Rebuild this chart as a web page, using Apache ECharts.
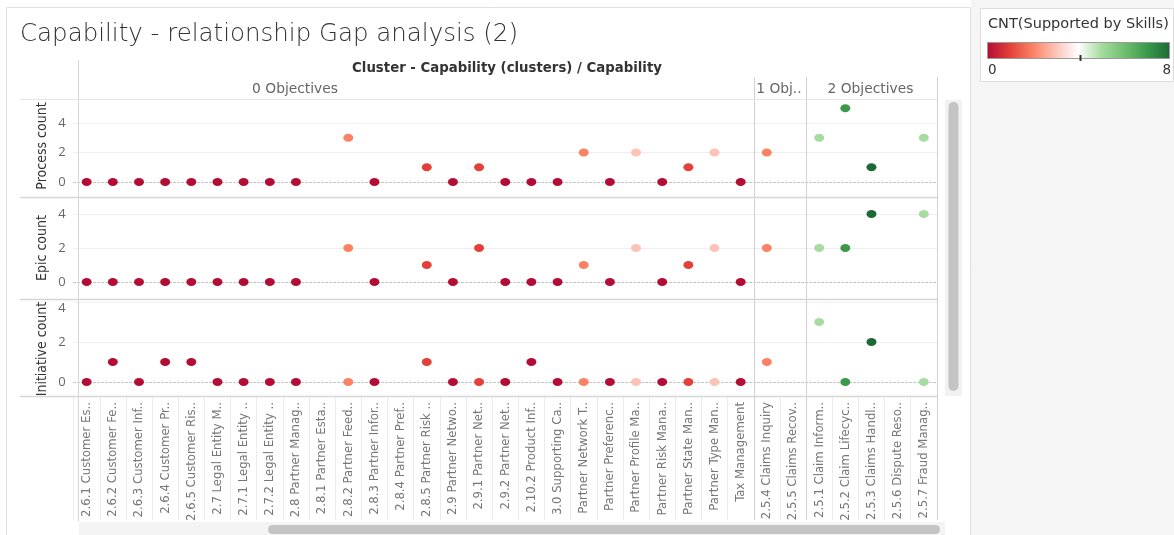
<!DOCTYPE html>
<html>
<head>
<meta charset="utf-8">
<script src="https://cdn.jsdelivr.net/npm/echarts@6/dist/echarts.min.js"></script>
<style>
html,body{margin:0;padding:0;background:#fff;}
#c{width:1174px;height:535px;}
</style>
</head>
<body>
<div id="c"></div>
<script>
// ---------- data ----------
const categories = [
  '2.6.1 Customer Es..','2.6.2 Customer Fe..','2.6.3 Customer Inf..','2.6.4 Customer Pr..','2.6.5 Customer Ris..',
  '2.7 Legal Entity M..','2.7.1 Legal Entity ..','2.7.2 Legal Entity ..','2.8 Partner Manag..','2.8.1 Partner Esta..',
  '2.8.2 Partner Feed..','2.8.3 Partner Infor..','2.8.4 Partner Pref..','2.8.5 Partner Risk ..','2.9 Partner Netwo..',
  '2.9.1 Partner Net..','2.9.2 Partner Net..','2.10.2 Product Inf..','3.0 Supporting Ca..','Partner Network T..',
  'Partner Preferenc..','Partner Profile Ma..','Partner Risk Mana..','Partner State Man..','Partner Type Man..',
  'Tax Management','2.5.4 Claims Inquiry','2.5.5 Claims Recov..','2.5.1 Claim Inform..','2.5.2 Claim Lifecyc..',
  '2.5.3 Claims Handl..','2.5.6 Dispute Reso..','2.5.7 Fraud Manag..'
];
const groupLabels = ['0 Objectives','1 Obj..','2 Objectives'];
const groupSizes = [26, 2, 5];
const processCount = [0,0,0,0,0, 0,0,0, 0,null,3,0,null,1, 0,1,0, 0,0, 2,0,2,0,1,2, 0, 2,null, 3,5,1,null,3];
const epicCount    = [0,0,0,0,0, 0,0,0, 0,null,2,0,null,1, 0,2,0, 0,0, 1,0,2,0,1,2, 0, 2,null, 2,2,4,null,4];
const initiativeCount = [0,1,0,1,1, 0,0,0, 0,null,0,0,null,1, 0,0,0, 1,0, 0,0,0,0,0,0, 0, 1,null, 3,0,2,null,0];
const supportedBySkills = [0,0,0,0,0, 0,0,0, 0,null,2,0,null,1, 0,1,0, 0,0, 2,0,3,0,1,3, 0, 2,null, 5,7,8,null,5];
const rowNames = ['Process count','Epic count','Initiative count'];
const skillRange = [0, 8];

// ---------- layout ----------
const N = categories.length;
const bandW = 26.16;
const gridLeft = 73.6;
const gridW = bandW * N;
const rightEdge = gridLeft + gridW;
const rows = [
  {top:123, height:59, nameY:146},
  {top:214, height:68, nameY:248},
  {top:302, height:80, nameY:349}
];
const measures = [processCount, epicCount, initiativeCount];
const palette = ['#b30c35','#e3403a','#fb8264','#fdc3b6','#f7f7f7','#a6dc9f','#6fbf6f','#3a9a4a','#1d6837'];
const narrow = '"Liberation Sans Narrow","DejaVu Sans Condensed",sans-serif';
const sans = '"Open Sans","Noto Sans",sans-serif';
const wide = '"DejaVu Sans",Verdana,sans-serif';

const grids = [], xAxes = [], yAxes = [], series = [];
rows.forEach((r, k) => {
  grids.push({left:gridLeft, top:r.top, width:gridW, height:r.height, containLabel:false});
  xAxes.push({
    type:'category', gridIndex:k, data:categories, boundaryGap:true,
    axisLine:{show:true, lineStyle:{color:'#c4c4c4', type:[2,2], width:1}},
    axisTick:{show:false},
    splitLine:{show:false},
    axisLabel: k === 2 ? {show:true, rotate:90, interval:0, margin:20, fontSize:13, color:'#777', fontFamily:narrow} : {show:false}
  });
  yAxes.push({
    type:'value', gridIndex:k, min:0, max:4, interval:2,
    axisLine:{show:false}, axisTick:{show:false},
    axisLabel:{
      fontSize:13, color:'#666', fontFamily:sans, margin:8,
      formatter: v => (k===2 && v===4) ? '{sh|4}' : String(v),
      rich:{sh:{padding:[12,0,0,0], fontSize:13, color:'#666', fontFamily:sans}}
    },
    splitLine:{show:true, lineStyle:{color:['rgba(0,0,0,0)','#efefef','#efefef'], width:1}}
  });
  const d = [];
  measures[k].forEach((v, i) => { if (v !== null) d.push([i, v, supportedBySkills[i]]); });
  series.push({
    type:'scatter', xAxisIndex:k, yAxisIndex:k, data:d, symbol:'circle', symbolSize:[10,8],
    clip:false, itemStyle:{opacity:1}, emphasis:{disabled:true}
  });
});

// label-area separator grid
grids.push({left:gridLeft, top:397, width:gridW, height:123});
xAxes.push({type:'category', gridIndex:3, data:categories, boundaryGap:true,
  axisLine:{show:false}, axisTick:{show:false}, axisLabel:{show:false},
  splitLine:{show:true, interval:0, lineStyle:{color:'#ececec', width:1}}});
yAxes.push({type:'value', gridIndex:3, show:false});

// ---------- graphics ----------
const g = [];
g.push({type:'rect', shape:{x:971, y:0, width:203, height:535}, style:{fill:'#f5f5f5'}, z:-10});
g.push({type:'rect', shape:{x:6.5, y:7.5, width:964, height:540}, style:{fill:'#fff', stroke:'#e0e0e0', lineWidth:1}, z:-9});
// title
g.push({type:'text', x:20, y:35, style:{text:'Capability - relationship Gap analysis (2)', fontSize:24.5, fontFamily:wide, fill:'#333', fontWeight:300, verticalAlign:'middle'}});
// header
g.push({type:'text', x:507, y:69, style:{text:'Cluster - Capability (clusters) / Capability', fontSize:13.3, fontWeight:'bold', fontFamily:wide, fill:'#333', align:'center', verticalAlign:'middle'}});
// row names
rows.forEach((r, k) => {
  g.push({type:'text', x:42, y:r.nameY, rotation:Math.PI/2, style:{text:rowNames[k], fontSize:14, fontFamily:narrow, fill:'#333', align:'center', verticalAlign:'middle'}});
});
// group labels and separators
let start = 0;
groupSizes.forEach((s, gi) => {
  const x0 = gridLeft + start*bandW, x1 = gridLeft + (start+s)*bandW;
  const cx = gi === 0 ? 295 : (x0+x1)/2 - 1;
  g.push({type:'text', x:cx, y:89, style:{text:groupLabels[gi], fontSize:13.8, fontFamily:wide, fill:'#666', align:'center', verticalAlign:'middle'}});
  start += s;
  const xs = Math.round(x1) + 0.5;
  g.push({type:'line', shape:{x1:xs, y1:77, x2:xs, y2:520}, style:{stroke:'#d0d0d0', lineWidth:1}, z:5});
});
g.push({type:'line', shape:{x1:78.5, y1:60, x2:78.5, y2:521}, style:{stroke:'#d6d6d6', lineWidth:1}, z:5});
[99, 197, 299, 396].forEach((y, i) => {
  g.push({type:'line', shape:{x1:20, y1:y+0.5, x2:Math.round(rightEdge)+0.5, y2:y+0.5}, style:{stroke: i===0 ? '#e6e6e6' : '#d6d6d6', lineWidth: i===0 ? 1 : 1.5}, z:5});
});
// scrollbars
g.push({type:'rect', shape:{x:945, y:100, width:17, height:296}, style:{fill:'#f2f2f2'}, z:4});
g.push({type:'rect', shape:{x:948.5, y:102, width:10, height:289, r:5}, style:{fill:'#c4c4c4'}, z:6});
g.push({type:'rect', shape:{x:79, y:522, width:866, height:13}, style:{fill:'#f4f4f4'}, z:4});
g.push({type:'rect', shape:{x:268, y:525, width:672, height:9, r:4.5}, style:{fill:'#c4c4c4'}, z:6});
// legend
g.push({type:'rect', shape:{x:980.5, y:8.5, width:193, height:73}, style:{fill:'#fff', stroke:'#dcdcdc', lineWidth:1}, z:1});
g.push({type:'text', x:988, y:24, style:{text:'CNT(Supported by Skills)', fontSize:14.5, fontFamily:wide, fill:'#333', verticalAlign:'middle'}, z:2});
g.push({type:'rect', shape:{x:987.5, y:42.5, width:182, height:16},
  style:{stroke:'#9a9a9a', lineWidth:1, fill:new echarts.graphic.LinearGradient(0,0,1,0,
    palette.map((c,i)=>({offset:i/(palette.length-1), color: i===4 ? '#ffffff' : c})))}, z:2});
g.push({type:'line', shape:{x1:1080.5, y1:55, x2:1080.5, y2:61}, style:{stroke:'#333', lineWidth:2}, z:3});
g.push({type:'text', x:988, y:70, style:{text:String(skillRange[0]), fontSize:13.5, fontFamily:wide, fill:'#333', verticalAlign:'middle'}, z:2});
g.push({type:'text', x:1171, y:70, style:{text:String(skillRange[1]), fontSize:13.5, fontFamily:wide, fill:'#333', align:'right', verticalAlign:'middle'}, z:2});

const chart = echarts.init(document.getElementById('c'), null, {renderer:'canvas'});
chart.setOption({
  animation:false,
  backgroundColor:'#ffffff',
  grid:grids, xAxis:xAxes, yAxis:yAxes, series:series,
  visualMap:{type:'continuous', show:false, min:skillRange[0], max:skillRange[1], dimension:2, seriesIndex:[0,1,2], inRange:{color:palette}},
  graphic:g
});
</script>
</body>
</html>
